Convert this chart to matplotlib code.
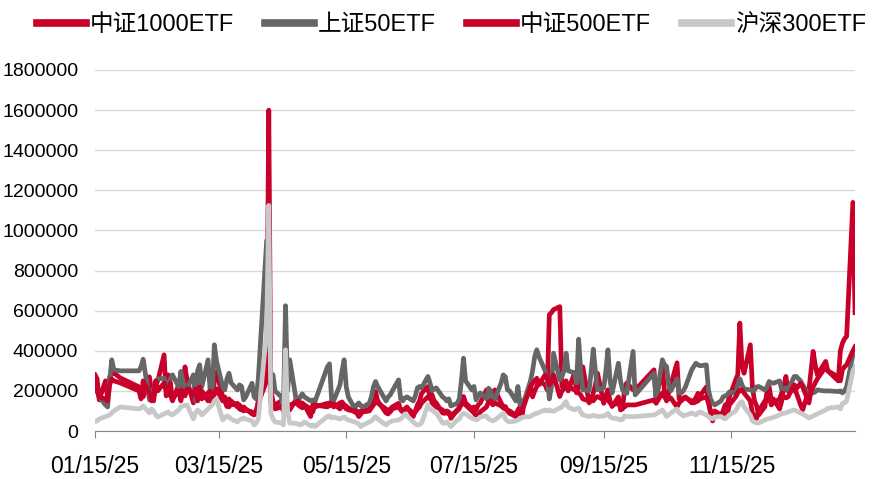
"""ETF 成交量对比：中证1000 / 上证50 / 中证500 / 沪深300 (2025-01-15 ~ 2026-01-13)."""
import matplotlib
matplotlib.use("Agg")
import matplotlib.pyplot as plt
import matplotlib.dates as mdates
from matplotlib.ticker import FuncFormatter
import numpy as np
import pandas as pd

plt.rcParams["font.family"] = ["Liberation Sans", "Noto Sans CJK SC", "DejaVu Sans"]

# trading days: weekdays minus exchange holidays
HOLIDAYS = [
    "2025-01-28", "2025-01-29", "2025-01-30", "2025-01-31", "2025-02-03", "2025-02-04",
    "2025-04-04", "2025-05-01", "2025-05-02", "2025-05-05", "2025-06-02",
    "2025-10-01", "2025-10-02", "2025-10-03", "2025-10-06", "2025-10-07", "2025-10-08",
    "2026-01-01", "2026-01-02",
]
dates = pd.bdate_range("2025-01-15", "2026-01-13")
dates = dates[~dates.isin(pd.to_datetime(HOLIDAYS))]

# values in thousands, one row per month
csi1000 = [
    280, 260, 155, 250, 165, 270, 285, 290, 265,
    220, 180, 170, 270, 200, 150, 230, 250, 380, 175, 280, 180, 150, 230, 180, 240, 320, 250,
    140, 230, 180, 190, 200, 150, 170, 140, 250, 297, 170, 150, 122, 160, 130, 138, 110, 105, 120, 110, 85,
    80, 95, 150, 300, 1600, 140, 120, 130, 150, 110, 140, 110, 105, 155, 130, 122, 140, 130, 72, 130, 120,
    138, 125, 150, 120, 140, 145, 130, 110, 115, 95, 90, 72, 85, 110, 105, 130, 170, 197, 150,
    90, 85, 110, 120, 138, 105, 95, 110, 120, 72, 100, 130, 150, 188, 222, 160, 180, 150, 140, 90,
    88, 100, 95, 63, 105, 110, 150, 172, 140, 110, 120, 105, 130, 140, 205, 170, 200, 175, 205, 140, 120, 122, 100,
    88, 72, 105, 120, 72, 150, 222, 170, 200, 222, 250, 230, 205, 580, 590, 605, 620, 222, 238, 250, 200,
    290, 190, 222, 305, 320, 140, 155, 190, 230, 288, 138, 175, 205, 150, 122, 170, 105, 110, 220, 240, 205, 205,
    305, 155, 322, 200, 150, 190, 230, 340, 160, 150, 165, 170, 140, 150, 165, 188, 175,
    220, 150, 90, 50, 100, 80, 100, 130, 135, 170, 255, 280, 538, 330, 288, 430, 220, 150, 125, 80,
    122, 200, 220, 155, 160, 110, 150, 220, 272, 200, 205, 190, 160, 130, 105, 205, 300, 397, 330, 280, 330, 347, 300,
    250, 400, 438, 460, 472, 1140, 590,
]
sse50 = [
    220, 200, 170, 130, 120, 250, 355, 305, 300,
    300, 320, 358, 155, 190, 210, 240, 260, 263, 230, 205, 260, 280, 220, 297, 250, 200, 215,
    280, 150, 300, 330, 220, 355, 200, 190, 430, 350, 220, 205, 260, 288, 240, 205, 230, 222, 155, 170, 238,
    170, 160, 260, 950, 450, 290, 280, 200, 170, 110, 625, 200, 355, 160, 150, 170, 185, 170, 150, 155, 145,
    320, 335, 160, 150, 230, 300, 355, 220, 170, 113, 130, 140, 125, 120, 138, 170, 220, 247, 222,
    150, 170, 180, 200, 255, 160, 150, 165, 170, 150, 175, 215, 222, 215, 272, 240, 200, 210, 215, 170,
    163, 150, 160, 125, 138, 160, 250, 363, 250, 205, 222, 155, 175, 190, 160, 213, 200, 138, 160, 240, 280, 270, 205,
    200, 150, 222, 130, 150, 150, 250, 300, 370, 405, 372, 300, 270, 160, 220, 388, 255, 270, 300, 388, 300,
    290, 240, 458, 300, 205, 200, 300, 408, 300, 205, 215, 300, 405, 250, 190, 338, 250, 205, 190, 188, 397, 180,
    288, 160, 355, 330, 322, 230, 200, 260, 190, 190, 200, 220, 305, 322, 338, 330, 325,
    330, 205, 160, 140, 130, 150, 170, 175, 180, 195, 188, 230, 260, 230, 210, 205, 200, 205, 220, 222,
    205, 220, 247, 240, 238, 250, 205, 210, 215, 205, 272, 272, 260, 250, 230, 180, 188, 190, 195, 205, 200, 200, 200,
    197, 200, 190, 200, 220, 380, 380,
]
csi500 = [
    225, 200, 170, 160, 150, 230, 260, 250, 240,
    200, 160, 250, 190, 150, 175, 250, 200, 240, 200, 180, 240, 160, 200, 150, 200, 175, 210,
    180, 210, 150, 220, 160, 190, 200, 180, 180, 210, 150, 170, 140, 120, 150, 120, 130, 115, 100, 105, 95,
    90, 100, 140, 250, 400, 200, 150, 110, 120, 100, 150, 120, 130, 140, 150, 140, 115, 130, 110, 95, 130,
    120, 140, 130, 135, 110, 130, 120, 125, 105, 100, 100, 90, 100, 95, 100, 115, 130, 150, 140,
    110, 100, 95, 110, 120, 110, 100, 105, 115, 90, 95, 110, 120, 140, 170, 180, 140, 130, 120, 105,
    95, 90, 85, 80, 100, 120, 130, 150, 130, 100, 90, 75, 80, 95, 120, 145, 150, 130, 140, 125, 115, 110, 105,
    100, 80, 85, 90, 110, 130, 220, 238, 250, 263, 230, 280, 272, 230, 250, 280, 172, 200, 210, 220, 222,
    205, 200, 190, 180, 160, 150, 160, 150, 165, 172, 155, 160, 155, 140, 130, 138, 130, 125, 120, 130, 130, 130,
    155, 138, 190, 170, 155, 160, 165, 120, 140, 155, 160, 165, 150, 140, 145, 150, 160,
    170, 140, 100, 72, 90, 80, 90, 75, 85, 130, 170, 190, 205, 205, 190, 150, 90, 75, 63, 100,
    150, 160, 170, 130, 140, 160, 190, 170, 165, 170, 230, 210, 225, 238, 220, 140, 200, 220, 240, 260, 305, 322, 300,
    270, 250, 305, 320, 330, 400, 420,
]
csi300 = [
    47, 50, 60, 72, 75, 80, 90, 100, 120,
    110, 115, 125, 90, 110, 100, 80, 70, 85, 90, 95, 85, 80, 105, 120, 125, 128, 130,
    60, 90, 105, 95, 80, 110, 120, 130, 150, 160, 55, 65, 75, 70, 60, 45, 55, 60, 65, 60, 50,
    30, 40, 60, 500, 1125, 90, 60, 45, 40, 30, 405, 100, 40, 38, 35, 30, 35, 45, 25, 30, 22,
    72, 75, 65, 70, 60, 65, 70, 60, 55, 45, 40, 35, 22, 30, 45, 50, 60, 72, 60,
    30, 40, 45, 50, 55, 60, 70, 85, 75, 45, 35, 30, 32, 40, 130, 110, 105, 95, 90, 40,
    38, 45, 35, 22, 55, 60, 80, 88, 85, 63, 60, 55, 60, 70, 75, 60, 55, 50, 55, 80, 88, 60, 50,
    45, 50, 55, 60, 68, 70, 72, 80, 85, 88, 92, 105, 100, 105, 100, 98, 115, 120, 135, 147, 120,
    105, 110, 115, 95, 80, 72, 75, 78, 75, 72, 75, 80, 88, 70, 65, 60, 55, 58, 75, 72, 72, 72,
    80, 85, 105, 90, 72, 80, 90, 110, 90, 85, 75, 78, 90, 85, 80, 90, 95,
    80, 72, 65, 60, 70, 72, 65, 60, 70, 80, 100, 120, 140, 147, 120, 80, 50, 45, 40, 40,
    55, 60, 62, 65, 68, 80, 88, 88, 90, 95, 105, 100, 95, 90, 85, 65, 70, 75, 80, 85, 100, 105, 113,
    120, 110, 138, 140, 150, 300, 320,
]

SERIES = [
    ("中证1000ETF", csi1000, "#C8002A"),
    ("上证50ETF", sse50, "#666666"),
    ("中证500ETF", csi500, "#C8002A"),
    ("沪深300ETF", csi300, "#C8C8C8"),
]
XTICKS = ["2025-01-15", "2025-03-15", "2025-05-15", "2025-07-15", "2025-09-15", "2025-11-15"]

for name, vals, _ in SERIES:
    assert len(vals) == len(dates), (name, len(vals), len(dates))

fig = plt.figure(figsize=(8.78, 4.79), dpi=100)
ax = fig.add_axes([95 / 878, 1 - 431 / 479, (855 - 95) / 878, (431 - 70) / 479])

for name, vals, color in SERIES:
    ax.plot(dates, np.array(vals) * 1000, color=color, lw=3.4,
            solid_joinstyle="round", label=name)

ax.set_ylim(0, 1800000)
ax.set_yticks(np.arange(0, 1800001, 200000))
ax.yaxis.set_major_formatter(FuncFormatter(lambda v, _: f"{int(v)}"))
ax.set_xlim(dates[0], dates[-1])
ax.set_xticks(pd.to_datetime(XTICKS))
ax.xaxis.set_major_formatter(mdates.DateFormatter("%m/%d/%y"))

ax.grid(axis="y", color="#D9D9D9", lw=1)
ax.set_axisbelow(True)
for side in ("top", "right", "left"):
    ax.spines[side].set_visible(False)
ax.spines["bottom"].set_color("#898989")
ax.tick_params(axis="y", length=0, pad=12, labelsize=14)
ax.tick_params(axis="x", length=5, color="#898989", pad=12, labelsize=16.5)

leg = fig.legend(loc="upper center", bbox_to_anchor=(0.514, 1.015), ncol=4, frameon=False,
                 fontsize=17, handlelength=2.1, handletextpad=0.15, columnspacing=1.3)
for line in leg.get_lines():
    line.set_linewidth(5.5)

fig.savefig("out.png", dpi=100)
